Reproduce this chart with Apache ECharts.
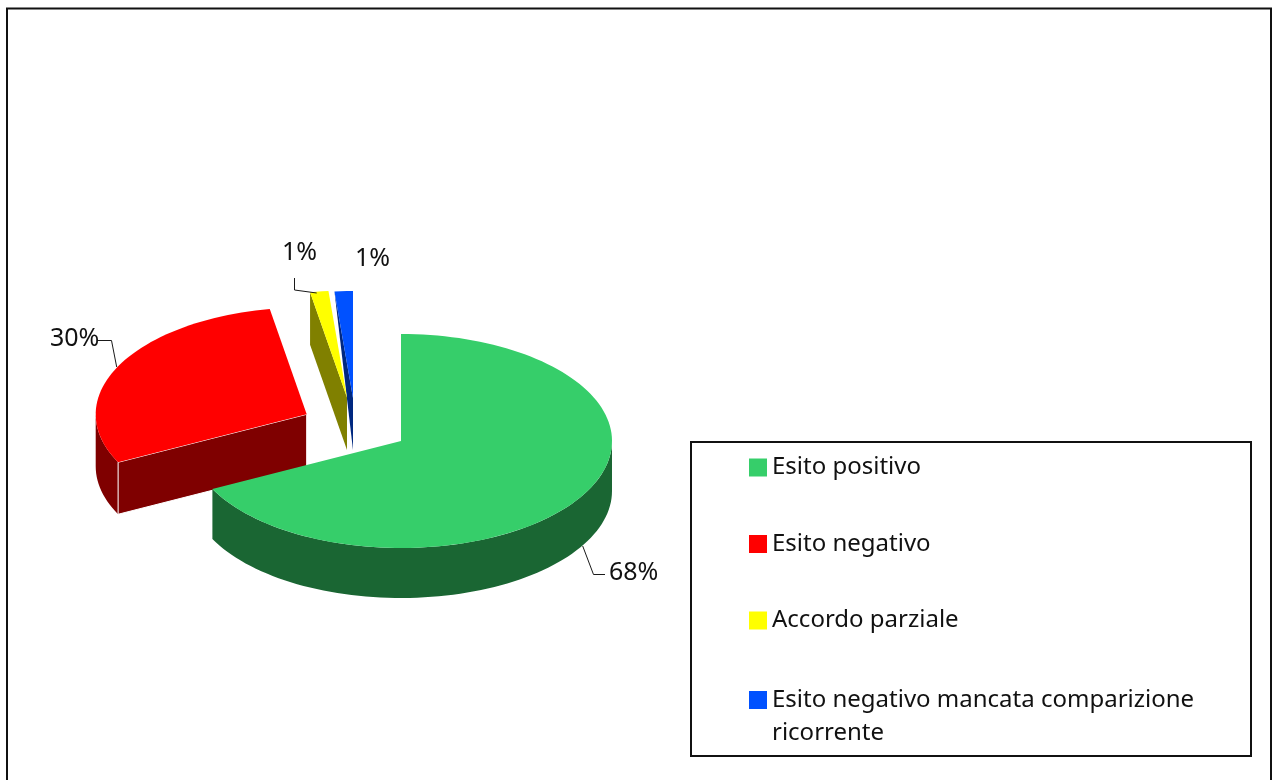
<!DOCTYPE html>
<html>
<head>
<meta charset="utf-8">
<style>
  html, body { margin: 0; padding: 0; background: #fff; overflow: hidden; }
  #chart { width: 1273px; height: 780px; }
</style>
<script src="https://cdn.jsdelivr.net/npm/echarts@6/dist/echarts.min.js"></script>
</head>
<body>
<div id="chart"></div>
<script>
var categories = ['Esito positivo', 'Esito negativo', 'Accordo parziale', 'Esito negativo mancata comparizione\nricorrente'];
var values = [67.6, 29.6, 1.4, 1.4];

var topColors = ['#36ce6a', '#ff0000', '#ffff00', '#0051ff'];
var wallColors = ['#1a6633', '#7f0000', '#808000', '#002880'];

// exploded centre of every wedge
var centers = [[401, 441], [306.7, 414.3], [347, 397.5], [353, 398]];
var depths = [50, 52, 52.5, 52];
var radiusX = 211;
var radiusY = 107;
var layers = [4, 3, 2, 1];

var labelPos = [[609, 573], [50, 339], [282, 253], [355, 259]];
var leaders = [
  [[582.7, 546], [593.5, 574.5], [605, 574.5]],
  [[98, 340.5], [111.5, 340.5], [116.7, 367]],
  [[294.5, 278], [294.5, 290], [316.7, 293]],
  null
];

var fontName = '"Noto Sans", sans-serif';
var total = values.reduce(function (a, b) { return a + b; }, 0);

function rim(c, deg, dy) {
  var r = deg * Math.PI / 180;
  return [c[0] + radiusX * Math.sin(r), c[1] - radiusY * Math.cos(r) + (dy || 0)];
}

function arc(c, from, to, dy) {
  var pts = [];
  var n = Math.max(2, Math.ceil((to - from) / 2));
  for (var i = 0; i <= n; i++) {
    pts.push(rim(c, from + (to - from) * i / n, dy));
  }
  return pts;
}

function renderSlice(index, params, api) {
  var before = 0;
  for (var i = 0; i < index; i++) before += values[i];
  var from = before / total * 360;
  var to = from + api.value(0) / total * 360;
  var c = centers[index];
  var d = depths[index];
  var kids = [];

  // outer wall, only the front half of the rim can be seen
  var a = Math.max(from, 90), b = Math.min(to, 270);
  if (b > a) {
    kids.push({
      type: 'polygon',
      shape: { points: arc(c, a, b, 0).concat(arc(c, a, b, d).reverse()) },
      style: { fill: wallColors[index] }
    });
  }

  // cut face at the start of the wedge
  if (from > 180) {
    var outer = rim(c, from);
    var face = [[c[0], c[1]], outer];
    // last wedge sits behind its neighbour, its face closes in a point
    if (index < values.length - 1) face.push([outer[0], outer[1] + d]);
    face.push([c[0], c[1] + d]);
    kids.push({
      type: 'polygon',
      shape: { points: face },
      style: index === 1
        ? { fill: wallColors[index], stroke: '#fff', lineWidth: 1 }
        : { fill: wallColors[index] }
    });
  }

  kids.push({
    type: 'polygon',
    shape: { points: [[c[0], c[1]]].concat(arc(c, from, to, 0)) },
    style: { fill: topColors[index] }
  });

  if (leaders[index]) {
    kids.push({
      type: 'polyline',
      shape: { points: leaders[index] },
      style: { fill: null, stroke: '#1a1a1a', lineWidth: 1 }
    });
  }
  kids.push({
    type: 'text',
    x: labelPos[index][0],
    y: labelPos[index][1],
    style: {
      text: Math.round(api.value(0)) + '%',
      fill: '#111',
      font: '25px ' + fontName,
      align: 'left',
      verticalAlign: 'middle'
    }
  });

  return { type: 'group', children: kids };
}

var legendBase = {
  orient: 'vertical',
  left: 749,
  height: 300,
  padding: 0,
  itemWidth: 18,
  itemHeight: 18,
  itemGap: 43.5,
  icon: 'rect',
  selectedMode: false,
  textStyle: {
    color: '#111',
    fontFamily: 'Noto Sans',
    fontSize: 24,
    lineHeight: 33
  }
};

var myChart = echarts.init(document.getElementById('chart'), null, { renderer: 'canvas' });

myChart.setOption({
  animation: false,
  backgroundColor: '#fff',
  graphic: [
    {
      type: 'rect',
      shape: { x: 7, y: 8.5, width: 1264, height: 790 },
      style: { fill: null, stroke: '#111', lineWidth: 2 }
    },
    {
      type: 'rect',
      shape: { x: 691, y: 442, width: 560, height: 314 },
      style: { fill: null, stroke: '#111', lineWidth: 2 }
    }
  ],
  legend: [
    Object.assign({}, legendBase, { top: 451, data: categories.slice(0, 3) }),
    // long entry gets its own legend: a blank first line keeps the swatch level with its first line
    Object.assign({}, legendBase, {
      top: 650.5,
      data: categories.slice(3),
      formatter: function (name) { return '\n' + name; }
    })
  ],
  series: categories.map(function (name, index) {
    return {
      type: 'custom',
      name: name,
      coordinateSystem: 'none',
      z: layers[index],
      itemStyle: { color: topColors[index] },
      data: [[values[index]]],
      renderItem: function (params, api) {
        return renderSlice(index, params, api);
      }
    };
  })
});
</script>
</body>
</html>
